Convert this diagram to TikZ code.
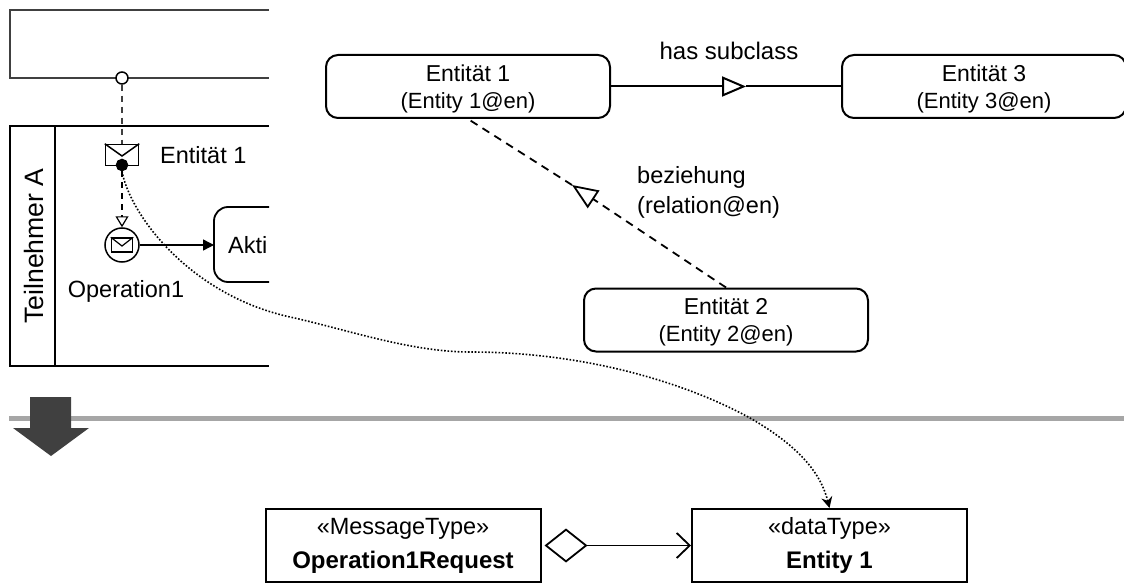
\documentclass[tikz,border=0pt]{standalone}
\usepackage{fontspec}
\setmainfont{Liberation Sans}
\usetikzlibrary{arrows.meta}

\definecolor{darkline}{HTML}{404040}
\definecolor{greyline}{HTML}{A6A6A6}

\tikzset{
  label/.style={inner sep=0pt,font=\fontsize{23.5}{27}\selectfont},
  entity/.style={draw,line width=2pt,rounded corners=12pt,minimum width=284pt,minimum height=63pt,align=center,inner sep=0pt,text depth=0pt,font=\fontsize{23}{27}\selectfont},
  classbox/.style={draw,line width=2pt,minimum width=275pt,minimum height=73pt,align=center,inner sep=0pt,font=\fontsize{23.5}{34}\selectfont},
  mail/.style={draw,line width=1.5pt,fill=white,inner sep=0pt},
  dot/.style={circle,draw,line width=1.5pt,inner sep=0pt}
}
\newcommand{\entitytext}[2]{#1\\{\fontsize{22}{27}\selectfont #2}}

\begin{document}
\begin{tikzpicture}[x=1pt,y=-1pt]
\useasboundingbox (0,0) rectangle (1124,583);

% pools
\draw [darkline,line width=2pt] (269,10) -- (10,10) -- (10,78) -- (269,78);
\draw [line width=1.8pt] (269,126) -- (10,126) -- (10,366) -- (269,366);
\draw [line width=1.8pt] (55,126) -- (55,366);
\node [label,font=\fontsize{26.6}{30}\selectfont,rotate=90] (teilnehmer) at (34,246) {Teilnehmer A};

% message flow
\node [dot,fill=white,minimum size=12pt] (port) at (122,78) {};
\node [mail,minimum width=33pt,minimum height=21pt] (msg) at (122,155) {};
\draw [line width=1.5pt] (msg.north west) -- (122,156) -- (msg.north east);
\node [dot,fill=black,minimum size=11pt] (msgdot) at (122,165) {};
\node [label,anchor=west] (msglabel) at (160,155) {Entität 1};
\draw [darkline,line width=1.5pt,dash pattern=on 6pt off 5pt] (port.south) -- (msg.north);

% start event
\node [dot,minimum size=34pt] (event) at (122,245) {};
\node [mail,minimum width=21pt,minimum height=14pt] (eventmail) at (event.center) {};
\draw [line width=1.2pt] (eventmail.north west) -- (122,246) -- (eventmail.north east);
\node [label] (oplabel) at (126,291) {Operation1};
\draw [-{Triangle[open,length=11pt,width=13pt]},line width=1.2pt,dash pattern=on 6pt off 5pt] (msgdot.south) -- (event.north);

% activity
\draw [line width=1.8pt,rounded corners=14pt] (269,207) -- (214,207) -- (214,282) -- (269,282);
\coordinate (activity) at (214,245);
\node [label,anchor=west] (aktlabel) at (228,245) {Akti};
\draw [-{Triangle[length=11pt,width=11pt]},line width=1.4pt] (event.east) -- (activity);

% entities
\node [entity] (entityA) at (468,86.5) {\entitytext{Entität 1}{(Entity 1@en)}};
\node [entity] (entityC) at (984,86.5) {\entitytext{Entität 3}{(Entity 3@en)}};
\node [entity] (entityB) at (726,320) {\entitytext{Entität 2}{(Entity 2@en)}};

\coordinate (subtip) at (746,86.5);
\draw [-{Triangle[open,length=24pt,width=20pt]},line width=2pt] (entityA.east) -- (subtip);
\draw [line width=2pt] (subtip) -- (entityC.west);
\node [label,font=\fontsize{24}{27}\selectfont] (sublabel) at (729,51) {has subclass};

\coordinate (reltip) at (572,185);
\draw [-{Triangle[open,length=26pt,width=21pt]},line width=1.8pt,dash pattern=on 8pt off 6pt] (entityB.north) -- (reltip);
\draw [line width=1.8pt,dash pattern=on 8pt off 6pt] (reltip) -- (entityA.south);
\node [label,anchor=west] (rellabelA) at (637,177) {beziehung};
\node [label,anchor=west] (rellabelB) at (637,207) {(relation@en)};

% divider and big arrow
\draw [greyline,line width=5pt] (9,418) -- (1124,418);
\fill [darkline] (30,397) -- (71,397) -- (71,428) -- (89,428) -- (51,456) -- (13,428) -- (30,428) -- cycle;

% classes
\node [classbox] (request) at (403,545.5) {«MessageType»\\{\fontsize{24}{34}\selectfont\bfseries Operation1Request}};
\node [classbox] (entityone) at (829.5,545.5) {«dataType»\\{\fontsize{24}{34}\selectfont\bfseries Entity 1}};
\draw [{Diamond[open,length=43pt,width=34pt]}-{Straight Barb[length=13pt,width=25pt]},line width=1.8pt,shorten <=3pt] (request.east) -- (entityone.west);

% dotted link
\draw [-{Stealth[length=11pt,width=11pt]},line width=1.6pt,dash pattern=on 1.6pt off 1.8pt]
  (msgdot.south) .. controls (130,215) and (190,295) .. (290,317)
  .. controls (345,329) and (410,352) .. (470,352)
  .. controls (590,352) and (690,385) .. (750,418)
  .. controls (795,444) and (820,470) .. (entityone.north);
\end{tikzpicture}
\end{document}
